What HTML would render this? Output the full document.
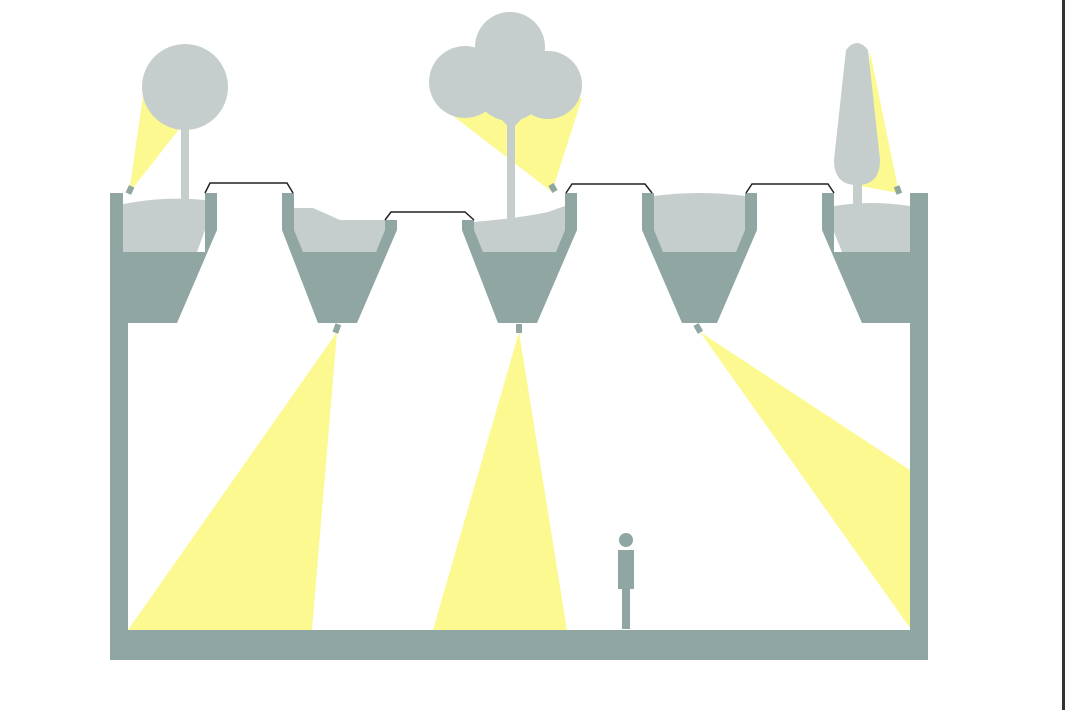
<!DOCTYPE html>
<html><head><meta charset="utf-8"><style>html,body{margin:0;padding:0;background:#fff}svg{display:block}</style></head>
<body>
<svg width="1065" height="710" viewBox="0 0 1065 710" xmlns="http://www.w3.org/2000/svg">
<rect width="1065" height="710" fill="#fff"/>
<rect x="1062" y="0" width="3" height="710" fill="#333"/>
<!-- lower beams -->
<g fill="#fbf98f">
<polygon points="337,332 128,630 312,630"/>
<polygon points="519,332 433,630 567,630"/>
<polygon points="700,332 910,470 910,628"/>
<!-- tree beams -->
<polygon points="129,193 143,96 180,128"/>
<polygon points="552,192 448,112 582,98"/>
<polygon points="899,193 870,52 860,186"/>
</g>
<!-- trees -->
<g fill="#c5cecc">
<rect x="181" y="120" width="8" height="82"/>
<circle cx="185" cy="87" r="43"/>
<rect x="507" y="95" width="8" height="125"/>
<polygon points="511,130 495,112 499,110 511,124"/>
<polygon points="511,130 528,112 524,110 511,124"/>
<circle cx="510" cy="47" r="35"/>
<circle cx="465" cy="82" r="36"/>
<circle cx="548" cy="85" r="34"/>
<circle cx="510" cy="85" r="36"/>
<rect x="853" y="175" width="9" height="30"/>
<path d="M846,50 Q857,36 868,50 L880,160 Q880,185 857,185 Q834,185 834,160 Z"/>
</g>
<!-- tree lamps -->
<g fill="#8fa6a3">
<rect x="127" y="186" width="6" height="8" transform="rotate(25 130 190)"/>
<rect x="550" y="184" width="6" height="8" transform="rotate(-30 553 188)"/>
<rect x="895" y="186" width="6" height="8" transform="rotate(-20 898 190)"/>
<rect x="334" y="324" width="6" height="9" transform="rotate(20 337 328)"/>
<rect x="516" y="324" width="6" height="9"/>
<rect x="695" y="324" width="6" height="9" transform="rotate(-30 698 328)"/>
</g>
<!-- structure -->
<g fill="#8fa6a3">
<!-- left wall + planter1 -->
<polygon points="110,193 123,193 123,252 205,252 205,193 217,193 217,230 177,323 128,323 128,630 910,630 910,323 862,323 822,230 822,193 834,193 834,252 910,252 910,193 928,193 928,660 110,660"/>
<!-- planter 2 -->
<polygon points="282,193 294,193 294,230 376,252 385,220 397,220 397,230 357,323 318,323 282,230"/>
<!-- planter 3 -->
<polygon points="462,220 474,220 474,230 565,230 565,193 577,193 577,230 537,323 498,323 462,230"/>
<!-- planter 4 -->
<polygon points="642,193 654,193 654,230 745,230 745,193 757,193 757,230 717,323 682,323 642,230"/>
</g>
<!-- soils -->
<g fill="#c5cecc">
<path d="M123,204 Q165,196 205,200 L205,230 L197,252 L123,252 Z"/>
<path d="M294,208 L313,208 L340,220 L385,220 L385,230 L376,252 L303,252 L294,230 Z"/>
<path d="M474,222 Q520,218 548,212 L565,206 L565,230 L556,252 L483,252 L474,230 Z"/>
<path d="M654,196 Q700,190 745,196 L745,230 L736,252 L663,252 L654,230 Z"/>
<path d="M834,206 Q870,200 910,206 L910,252 L842,252 L834,232 Z"/>
</g>
<!-- bridges -->
<g fill="none" stroke="#222" stroke-width="1.5">
<polyline points="205,193 210,183 287,183 293,193"/>
<polyline points="385,220 391,212 465,212 474,220"/>
<polyline points="566,193 572,184 645,184 652,193"/>
<polyline points="746,193 752,184 828,184 834,193"/>
</g>
<!-- person -->
<g fill="#8fa6a3">
<circle cx="626" cy="540" r="7"/>
<rect x="618" y="550" width="16" height="39"/>
<rect x="622" y="589" width="8" height="40"/>
</g>
</svg>
</body></html>
